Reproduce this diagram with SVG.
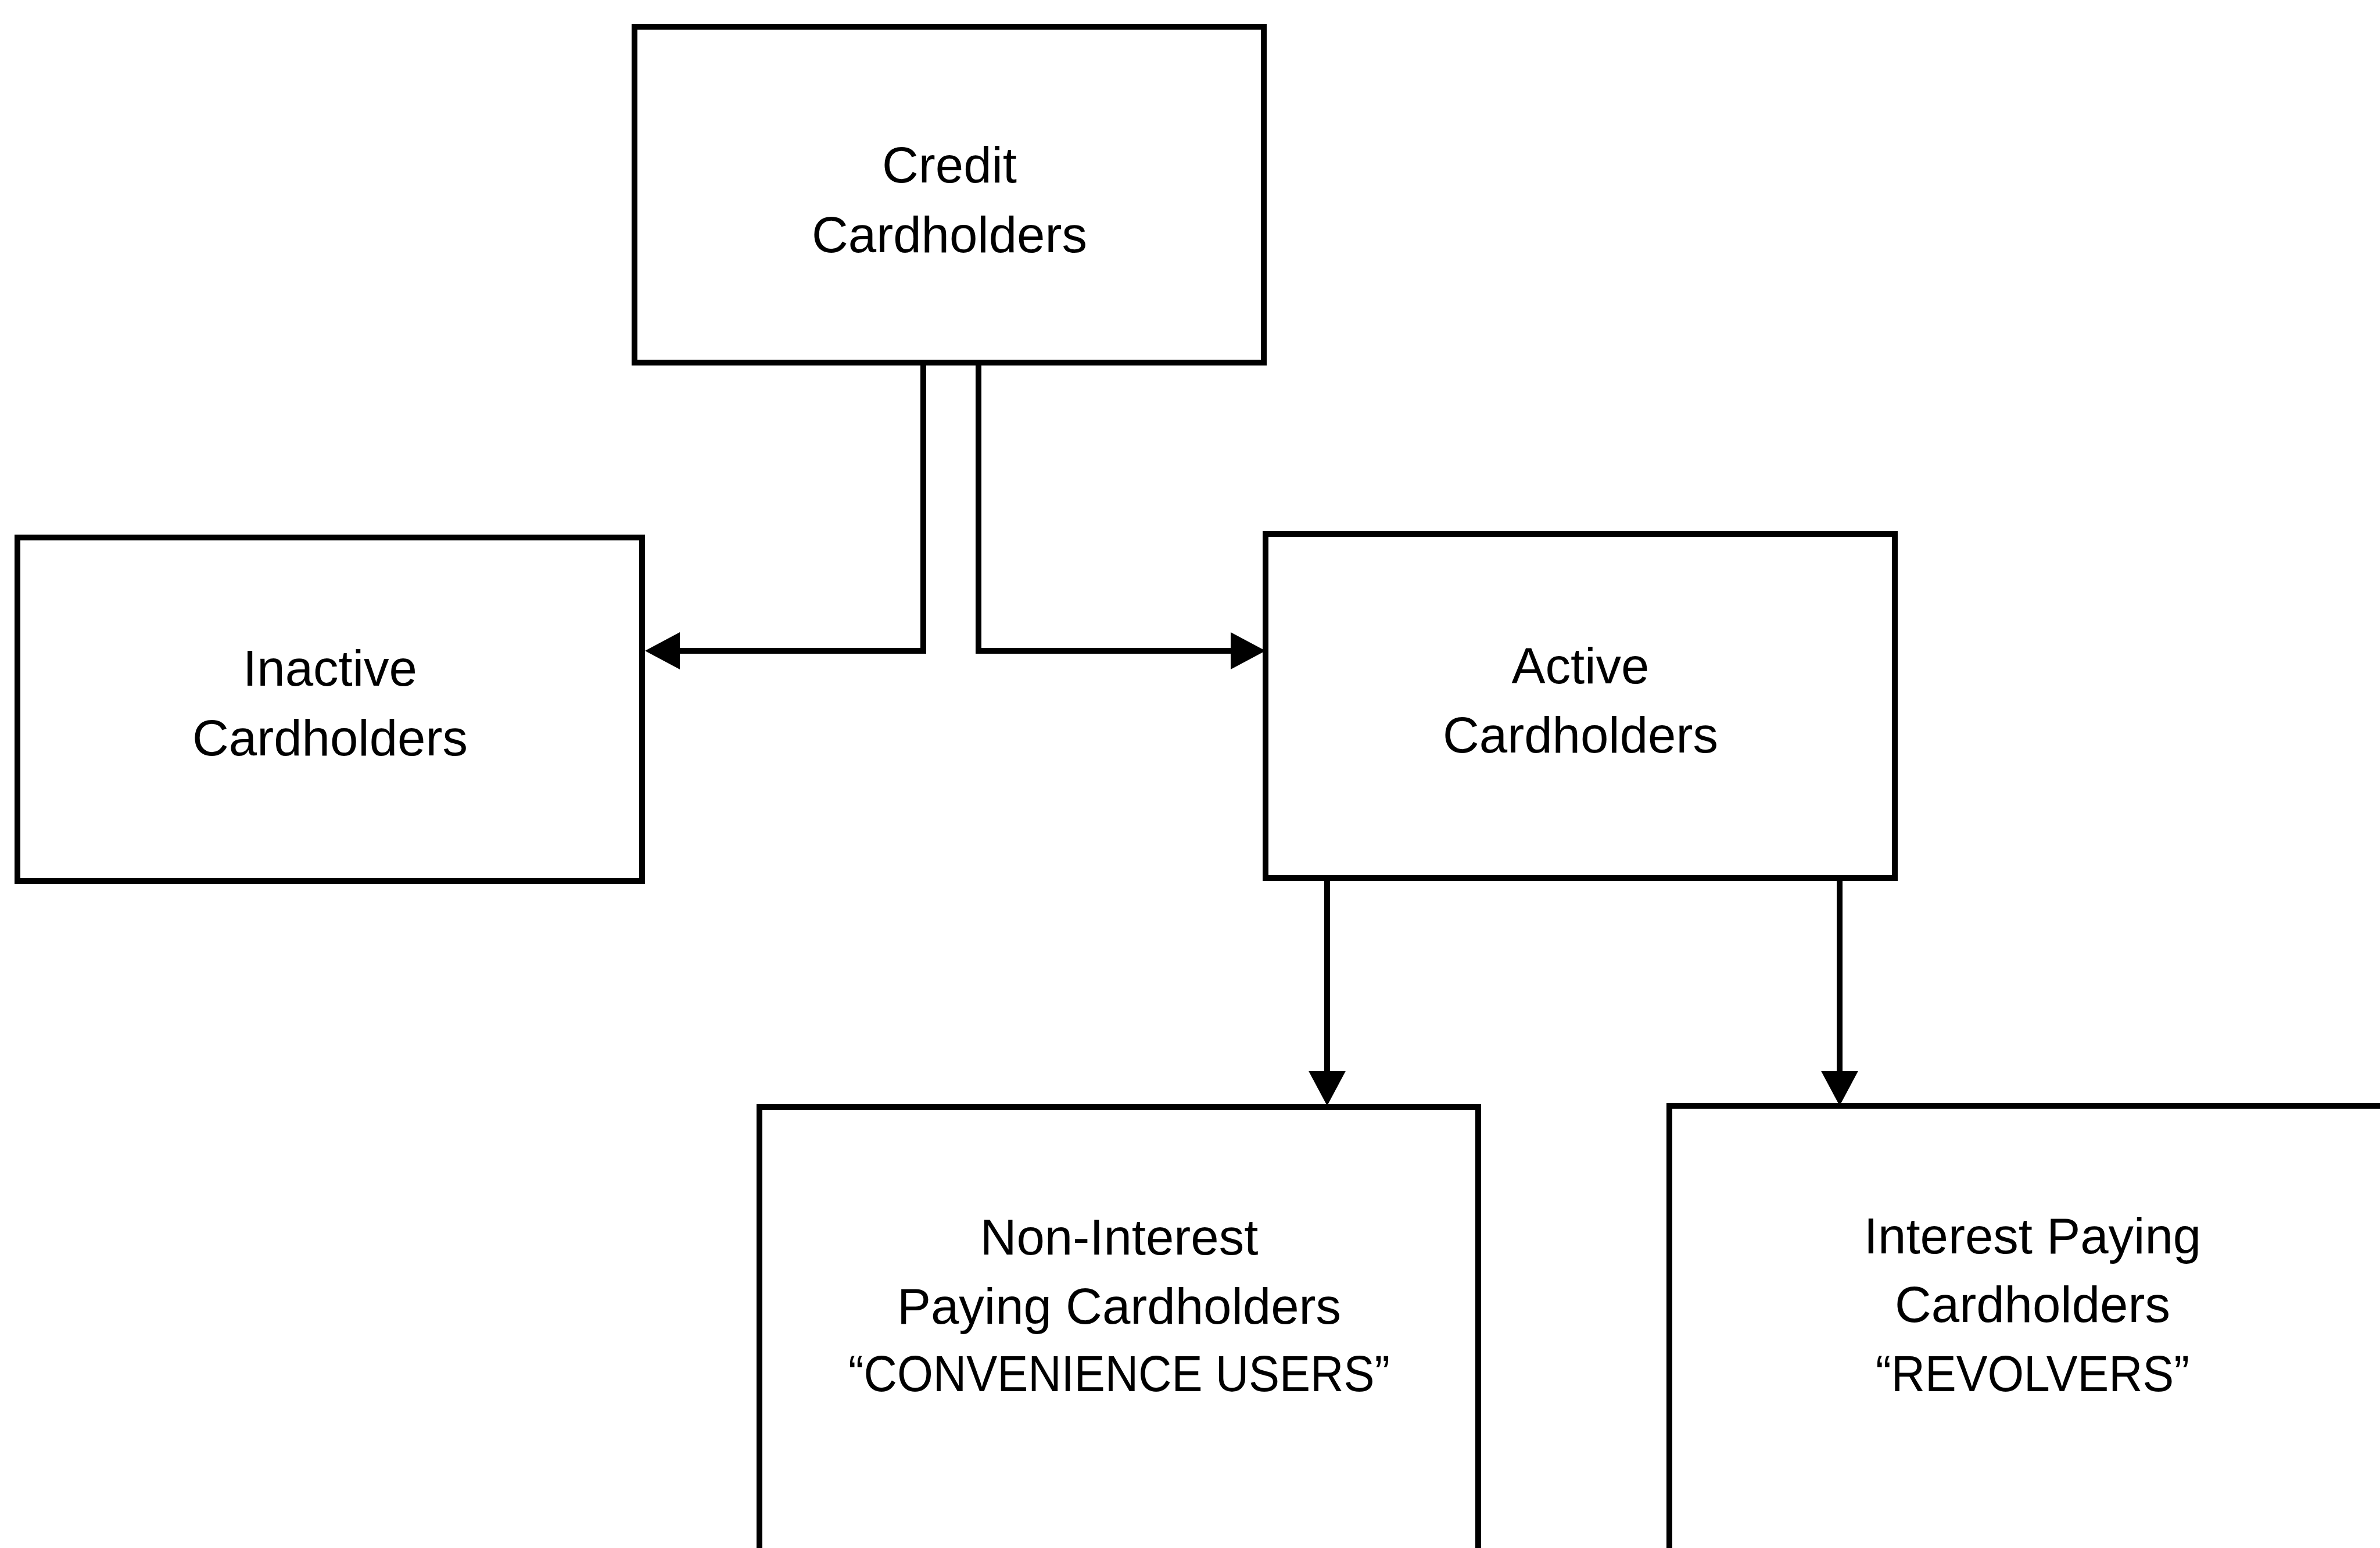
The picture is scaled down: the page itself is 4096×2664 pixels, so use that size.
<svg xmlns="http://www.w3.org/2000/svg" width="4096" height="2664" viewBox="0 0 4096 2664">
<style>
.box{fill:#fff;stroke:#000;stroke-width:10}
.lbl{font-family:"Liberation Sans",Arial,sans-serif;font-size:87px;fill:#000;text-anchor:middle}
.con{fill:none;stroke:#000;stroke-width:10;stroke-linejoin:miter}
</style>
<defs>
<marker id="arr" viewBox="0 0 60 64" refX="30" refY="32" markerWidth="60" markerHeight="64" markerUnits="userSpaceOnUse" orient="auto">
<path d="M0,0 L60,32 L0,64 Z" fill="#000"/>
</marker>
</defs>
<rect x="0" y="0" width="4096" height="2664" fill="#fff"/>
<g id="connectors">
<path class="con" d="M1589,624 L1589,1120 L1140,1120" marker-end="url(#arr)"/>
<path class="con" d="M1684,624 L1684,1120 L2148,1120" marker-end="url(#arr)"/>
<path class="con" d="M2284,1511 L2284,1873" marker-end="url(#arr)"/>
<path class="con" d="M3166,1511 L3166,1873" marker-end="url(#arr)"/>
</g>
<g id="credit">
<rect class="box" x="1092" y="46" width="1083" height="578"/>
<text class="lbl" x="1634" y="314">Credit</text>
<text class="lbl" x="1634" y="434">Cardholders</text>
</g>
<g id="inactive">
<rect class="box" x="30" y="925" width="1075" height="591"/>
<text class="lbl" x="568" y="1180">Inactive</text>
<text class="lbl" x="568" y="1300">Cardholders</text>
</g>
<g id="active">
<rect class="box" x="2178" y="919" width="1083" height="592"/>
<text class="lbl" x="2720" y="1176">Active</text>
<text class="lbl" x="2720" y="1295">Cardholders</text>
</g>
<g id="noninterest">
<rect class="box" x="1307" y="1905" width="1237" height="820"/>
<text class="lbl" x="1926" y="2159">Non-Interest</text>
<text class="lbl" x="1926" y="2278">Paying Cardholders</text>
<text class="lbl" x="1926" y="2394" textLength="932" lengthAdjust="spacingAndGlyphs">“CONVENIENCE USERS”</text>
</g>
<g id="interest">
<rect class="box" x="2873" y="1903" width="1300" height="820"/>
<text class="lbl" x="3498" y="2157">Interest Paying</text>
<text class="lbl" x="3498" y="2275">Cardholders</text>
<text class="lbl" x="3498" y="2394" textLength="540" lengthAdjust="spacingAndGlyphs">“REVOLVERS”</text>
</g>
</svg>
